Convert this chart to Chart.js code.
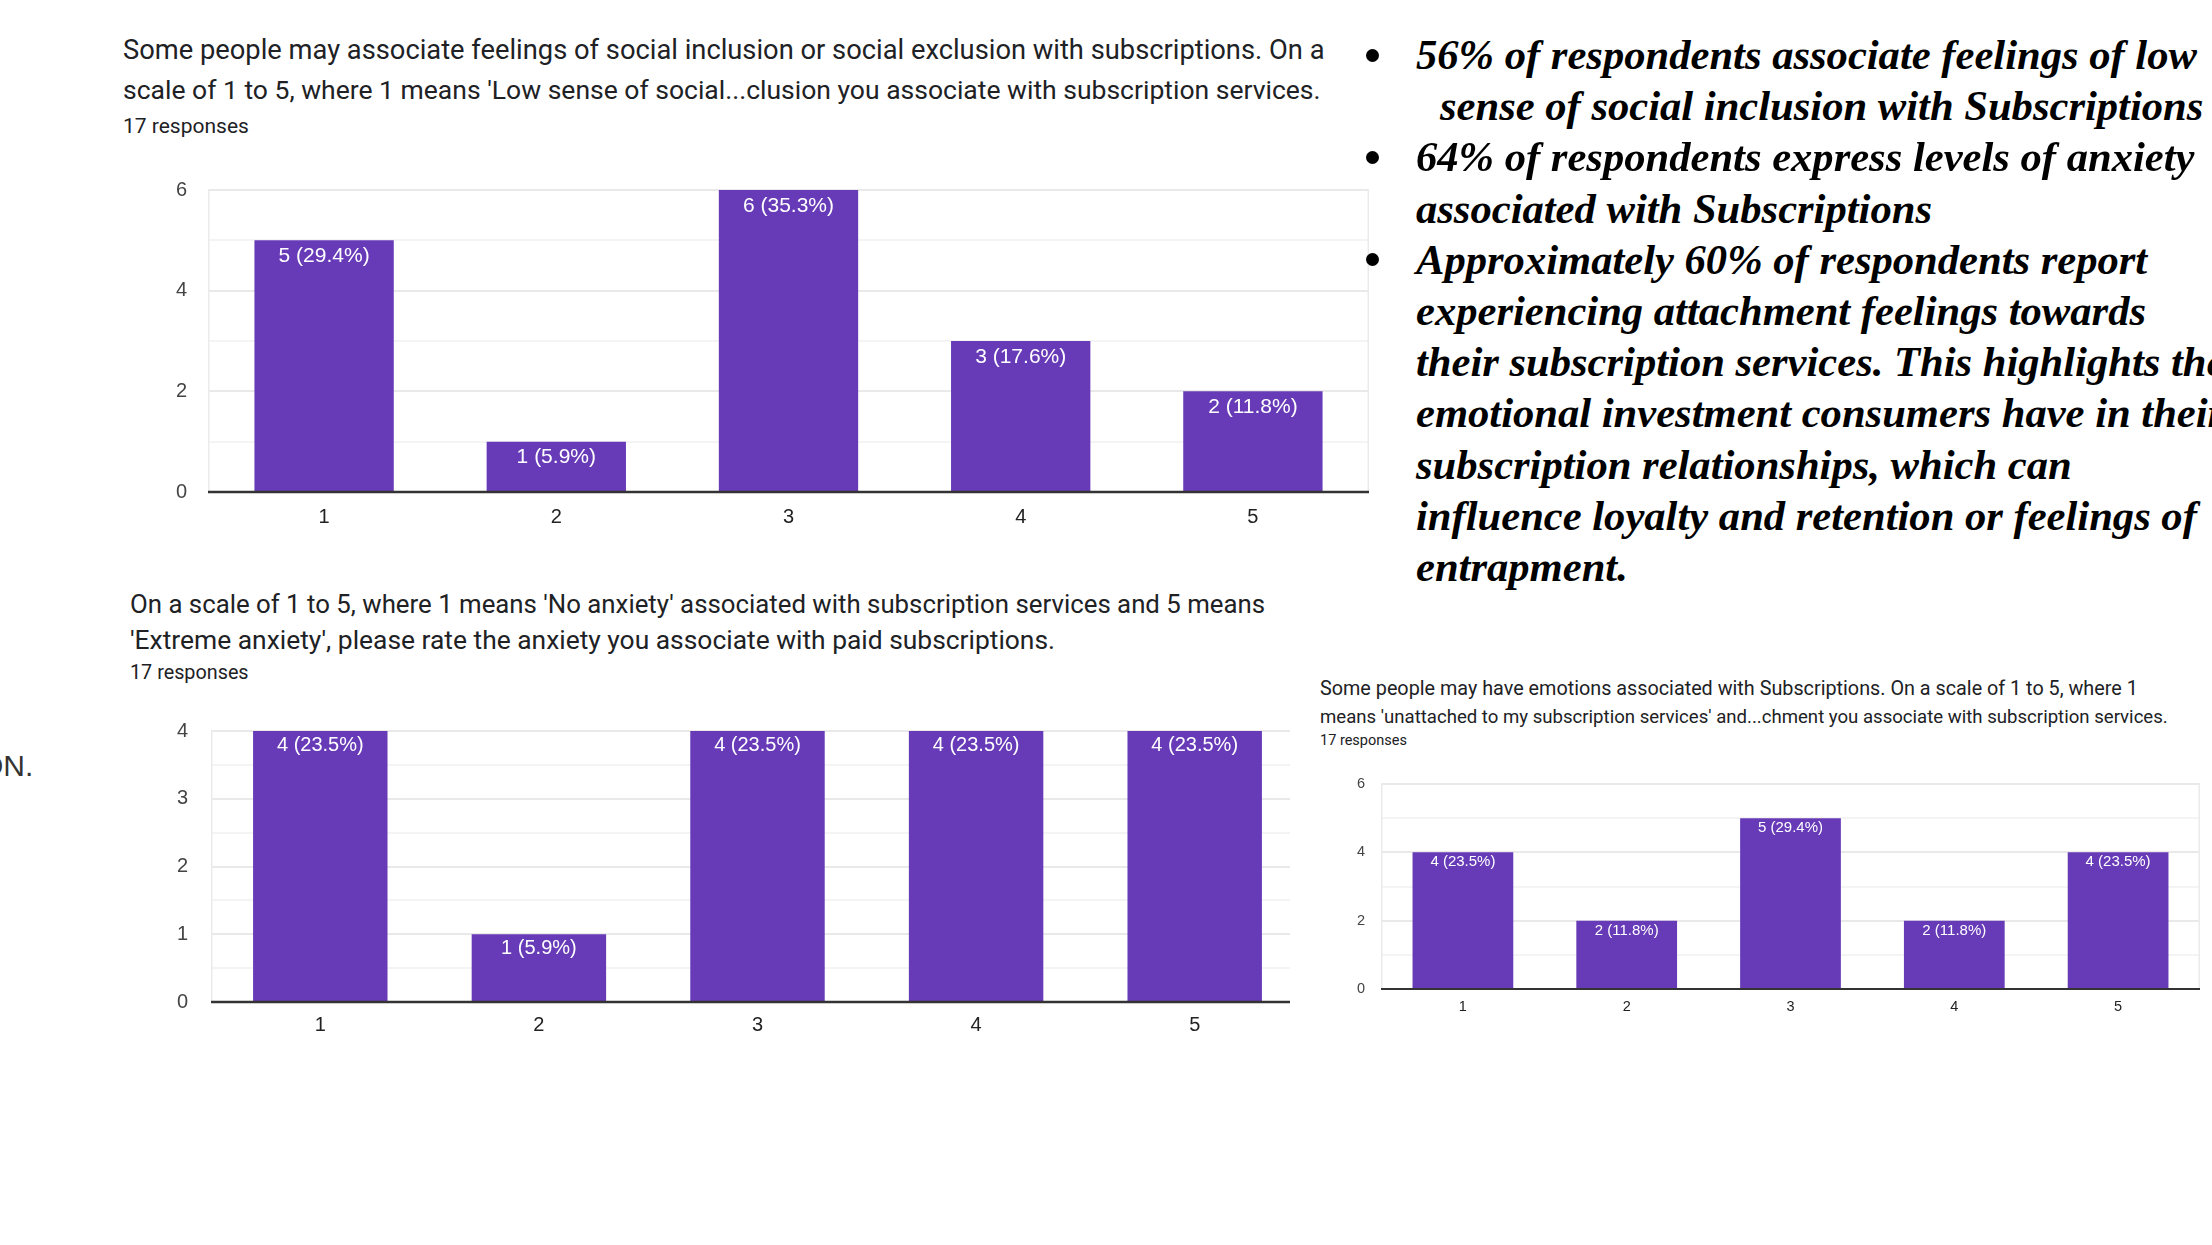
<!DOCTYPE html>
<html><head><meta charset="utf-8">
<script src="https://cdn.jsdelivr.net/npm/chart.js@4.4.1/dist/chart.umd.min.js"></script>
<style>
html,body{margin:0;padding:0;background:#fff;width:2212px;height:1245px;overflow:hidden;position:relative;}
.t{position:absolute;white-space:nowrap;font-family:Roboto,"Noto Sans",sans-serif;color:#202124;}
.b{position:absolute;white-space:nowrap;font-family:"Liberation Serif","Times New Roman",serif;font-weight:bold;font-style:italic;font-size:42.6px;line-height:51px;color:#000;}
.dot{position:absolute;width:13px;height:13px;border-radius:50%;background:#000;}
.cw{position:absolute;overflow:hidden;}
canvas{position:absolute;left:0;top:0;}
#bullets{position:absolute;left:0;top:0;z-index:5;}
</style></head><body>

<div class="t" style="left:123px;top:30px;font-size:27.3px;line-height:40px;">Some people may associate feelings of social inclusion or social exclusion with subscriptions. On a</div>
<div class="t" style="left:123px;top:70px;font-size:26.5px;line-height:40px;">scale of 1 to 5, where 1 means 'Low sense of social...clusion you associate with subscription services.</div>
<div class="t" style="left:123px;top:113px;font-size:21px;line-height:26px;">17 responses</div>

<div class="t" style="left:130px;top:585px;font-size:25.8px;line-height:38px;">On a scale of 1 to 5, where 1 means 'No anxiety' associated with subscription services and 5 means</div>
<div class="t" style="left:130px;top:621px;font-size:26.4px;line-height:38px;">'Extreme anxiety', please rate the anxiety you associate with paid subscriptions.</div>
<div class="t" style="left:130px;top:660px;font-size:19.8px;line-height:26px;">17 responses</div>

<div class="t" style="left:1320px;top:675px;font-size:19.8px;line-height:28px;">Some people may have emotions associated with Subscriptions. On a scale of 1 to 5, where 1</div>
<div class="t" style="left:1320px;top:703px;font-size:18.6px;line-height:28px;">means 'unattached to my subscription services' and...chment you associate with subscription services.</div>
<div class="t" style="left:1320px;top:731px;font-size:14.5px;line-height:20px;">17 responses</div>

<div class="t" style="left:-20px;top:751px;font-size:30px;line-height:30px;font-family:'Liberation Sans',Arial,sans-serif;color:#333;">ON.</div>

<div class="cw" style="left:150px;top:170px;width:1221px;height:370px;"><canvas id="c1"></canvas></div>
<div class="cw" style="left:150px;top:711px;width:1140px;height:336px;"><canvas id="c2"></canvas></div>
<div class="cw" style="left:1330px;top:770px;width:872px;height:254px;"><canvas id="c3"></canvas></div>

<div id="bullets"></div>

<script>
// ---- data ----
const categories = ['1', '2', '3', '4', '5'];
const inclusionCounts = [5, 1, 6, 3, 2];
const inclusionPct = [29.4, 5.9, 35.3, 17.6, 11.8];
const anxietyCounts = [4, 1, 4, 4, 4];
const anxietyPct = [23.5, 5.9, 23.5, 23.5, 23.5];
const attachmentCounts = [4, 2, 5, 2, 4];
const attachmentPct = [23.5, 11.8, 29.4, 11.8, 23.5];
const inclusionAxis = {max: 6, step: 1, labelEvery: 2};
const anxietyAxis = {max: 4, step: 0.5, labelEvery: 1};
const attachmentAxis = {max: 6, step: 1, labelEvery: 2};

const bulletLines = [
  {dot: true, indent: 0, text: '56% of respondents associate feelings of low'},
  {dot: false, indent: 24, text: 'sense of social inclusion with Subscriptions'},
  {dot: true, indent: 0, text: '64% of respondents express levels of anxiety'},
  {dot: false, indent: 0, text: 'associated with Subscriptions'},
  {dot: true, indent: 0, text: 'Approximately 60% of respondents report'},
  {dot: false, indent: 0, text: 'experiencing attachment feelings towards'},
  {dot: false, indent: 0, text: 'their subscription services. This highlights the'},
  {dot: false, indent: 0, text: 'emotional investment consumers have in their'},
  {dot: false, indent: 0, text: 'subscription relationships, which can'},
  {dot: false, indent: 0, text: 'influence loyalty and retention or feelings of'},
  {dot: false, indent: 0, text: 'entrapment.'}
];

// ---- bullet text ----
const bl = document.getElementById('bullets');
bulletLines.forEach((l, i) => {
  const cy = 55 + i * 51.2;
  const d = document.createElement('div');
  d.className = 'b';
  d.style.left = (1416 + l.indent) + 'px';
  d.style.top = (cy - 26) + 'px';
  d.textContent = l.text;
  bl.appendChild(d);
  if (l.dot) {
    const c = document.createElement('div');
    c.className = 'dot';
    c.style.left = (1372 - 6.5) + 'px';
    c.style.top = (cy - 6.5) + 'px';
    bl.appendChild(c);
  }
});

function makeChart(id, counts, pcts, axis, o) {
  const cv = document.getElementById(id);
  cv.width = o.w; cv.height = o.h;
  cv.style.width = o.w + 'px'; cv.style.height = o.h + 'px';
  const deco = {
    id: 'deco_' + id,
    beforeDatasetsDraw(chart) {
      const a = chart.chartArea, ctx = chart.ctx;
      ctx.save();
      ctx.strokeStyle = '#ebebeb'; ctx.lineWidth = 1.5;
      ctx.beginPath();
      ctx.moveTo(a.left + 0.75, a.bottom); ctx.lineTo(a.left + 0.75, a.top);
      if (o.rightBorder) { ctx.moveTo(a.right - 0.75, a.top); ctx.lineTo(a.right - 0.75, a.bottom); }
      ctx.stroke();
      ctx.restore();
    },
    afterDatasetsDraw(chart) {
      const a = chart.chartArea, ctx = chart.ctx;
      const meta = chart.getDatasetMeta(0);
      ctx.save();
      ctx.fillStyle = '#ffffff';
      ctx.font = o.bf + 'px "Liberation Sans", Arial, sans-serif';
      ctx.textAlign = 'center'; ctx.textBaseline = 'middle';
      meta.data.forEach((bar, i) => {
        ctx.fillText(counts[i] + ' (' + pcts[i] + '%)', bar.x, bar.y + o.lo);
      });
      ctx.strokeStyle = '#333333'; ctx.lineWidth = o.axw;
      ctx.beginPath(); ctx.moveTo(a.left, a.bottom); ctx.lineTo(a.right, a.bottom); ctx.stroke();
      ctx.restore();
    }
  };
  return new Chart(cv, {
    type: 'bar',
    data: {labels: categories, datasets: [{data: counts, backgroundColor: '#673ab7', barPercentage: o.bp, categoryPercentage: 1, borderWidth: 0}]},
    options: {
      responsive: false, animation: false, devicePixelRatio: 1,
      layout: {padding: {top: o.pt, right: o.pr, left: 0, bottom: 0}},
      plugins: {legend: {display: false}, tooltip: {enabled: false}},
      scales: {
        x: {
          grid: {display: false, drawTicks: false}, border: {display: false},
          ticks: {font: {family: '"Liberation Sans", Arial, sans-serif', size: o.tf}, color: '#222', padding: o.xtp, maxRotation: 0},
          afterFit(s) { s.height = o.xh; s.paddingLeft = 0; s.paddingRight = 0; }
        },
        y: {
          min: 0, max: axis.max,
          border: {display: false},
          grid: {
            drawTicks: false,
            color: c => (c.tick.value === 0 ? 'rgba(0,0,0,0)' : (c.tick.value % axis.labelEvery === 0 ? '#e9e9e9' : '#f4f4f4')),
            lineWidth: 2
          },
          ticks: {
            stepSize: axis.step, autoSkip: false,
            callback: v => (v % axis.labelEvery === 0 ? String(v) : ''),
            font: {family: '"Liberation Sans", Arial, sans-serif', size: o.tf}, color: '#444', padding: o.ytp
          },
          afterFit(s) { s.width = o.yw; s.paddingTop = 0; s.paddingBottom = 0; }
        }
      }
    },
    plugins: [deco]
  });
}

makeChart('c1', inclusionCounts, inclusionPct, inclusionAxis,
  {w: 1221, h: 370, yw: 58, pt: 20, pr: 2, xh: 48, bp: 0.6, tf: 20, bf: 21, lo: 16, ytp: 21, xtp: 13, axw: 2.5, rightBorder: true});
makeChart('c2', anxietyCounts, anxietyPct, anxietyAxis,
  {w: 1156, h: 336, yw: 61, pt: 20, pr: 2, xh: 45, bp: 0.615, tf: 20, bf: 20, lo: 14, ytp: 23, xtp: 11, axw: 2.5, rightBorder: false});
makeChart('c3', attachmentCounts, attachmentPct, attachmentAxis,
  {w: 872, h: 254, yw: 51, pt: 14, pr: 2, xh: 35, bp: 0.615, tf: 14.5, bf: 15, lo: 10, ytp: 16, xtp: 9, axw: 2, rightBorder: true});
</script>
</body></html>
